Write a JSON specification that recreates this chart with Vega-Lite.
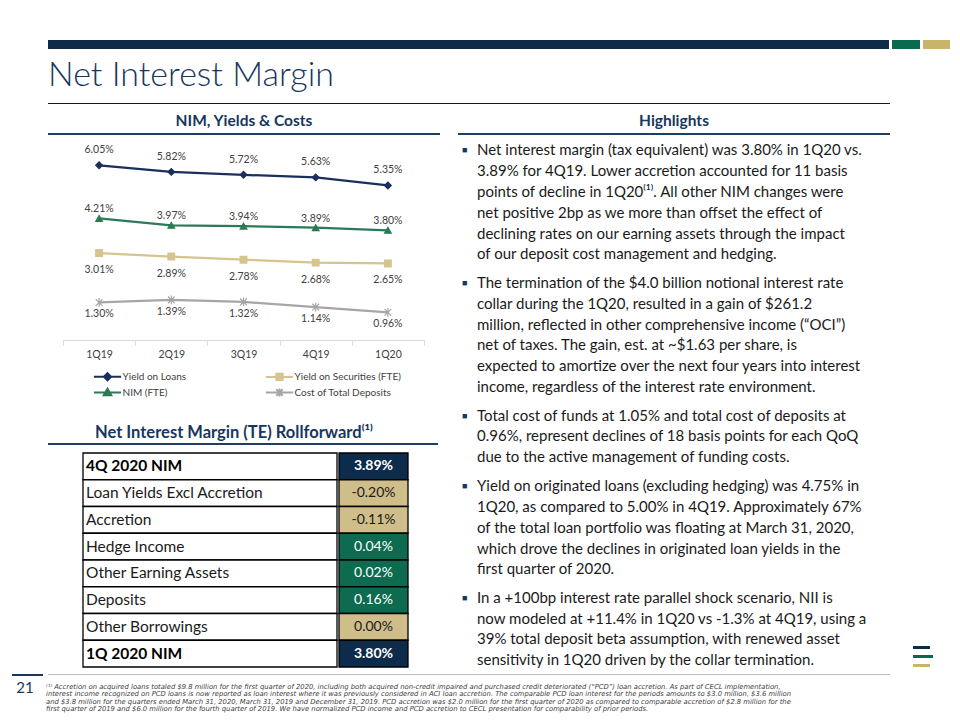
{
  "$schema": "https://vega.github.io/schema/vega-lite/v6.json",
  "background": "white",
  "padding": 0,
  "spacing": 0,
  "config": {
    "view": {"stroke": null},
    "font": "Lato",
    "text": {"font": "Lato"}
  },
  "datasets": {
    "nim": [
      {"q": "1Q19", "s": "Yield on Loans", "v": 0.0605},
      {"q": "2Q19", "s": "Yield on Loans", "v": 0.0582},
      {"q": "3Q19", "s": "Yield on Loans", "v": 0.0572},
      {"q": "4Q19", "s": "Yield on Loans", "v": 0.0563},
      {"q": "1Q20", "s": "Yield on Loans", "v": 0.0535},
      {"q": "1Q19", "s": "Yield on Securities (FTE)", "v": 0.0301},
      {"q": "2Q19", "s": "Yield on Securities (FTE)", "v": 0.0289},
      {"q": "3Q19", "s": "Yield on Securities (FTE)", "v": 0.0278},
      {"q": "4Q19", "s": "Yield on Securities (FTE)", "v": 0.0268},
      {"q": "1Q20", "s": "Yield on Securities (FTE)", "v": 0.0265},
      {"q": "1Q19", "s": "NIM (FTE)", "v": 0.0421},
      {"q": "2Q19", "s": "NIM (FTE)", "v": 0.0397},
      {"q": "3Q19", "s": "NIM (FTE)", "v": 0.0394},
      {"q": "4Q19", "s": "NIM (FTE)", "v": 0.0389},
      {"q": "1Q20", "s": "NIM (FTE)", "v": 0.0380},
      {"q": "1Q19", "s": "Cost of Total Deposits", "v": 0.0130},
      {"q": "2Q19", "s": "Cost of Total Deposits", "v": 0.0139},
      {"q": "3Q19", "s": "Cost of Total Deposits", "v": 0.0132},
      {"q": "4Q19", "s": "Cost of Total Deposits", "v": 0.0114},
      {"q": "1Q20", "s": "Cost of Total Deposits", "v": 0.0096}
    ],
    "tbl": [
      {"i": 1, "label": "4Q 2020 NIM", "v": 0.0389, "kind": "total"},
      {"i": 2, "label": "Loan Yields Excl Accretion", "v": -0.0020, "kind": "change"},
      {"i": 3, "label": "Accretion", "v": -0.0011, "kind": "change"},
      {"i": 4, "label": "Hedge Income", "v": 0.0004, "kind": "change"},
      {"i": 5, "label": "Other Earning Assets", "v": 0.0002, "kind": "change"},
      {"i": 6, "label": "Deposits", "v": 0.0016, "kind": "change"},
      {"i": 7, "label": "Other Borrowings", "v": 0.0000, "kind": "change"},
      {"i": 8, "label": "1Q 2020 NIM", "v": 0.0380, "kind": "total"}
    ],
    "hl": [
      {"p": 1, "ln": 1, "t": "Net interest margin (tax equivalent) was 3.80% in 1Q20 vs."},
      {"p": 1, "ln": 2, "t": "3.89% for 4Q19.  Lower accretion accounted for 11 basis"},
      {"p": 1, "ln": 3, "t": "points of decline in 1Q20⁽¹⁾.  All other NIM changes were"},
      {"p": 1, "ln": 4, "t": "net positive 2bp as we more than offset the effect of"},
      {"p": 1, "ln": 5, "t": "declining rates on our earning assets through the impact"},
      {"p": 1, "ln": 6, "t": "of our deposit cost management and hedging."},
      {"p": 2, "ln": 1, "t": "The termination of the $4.0 billion notional interest rate"},
      {"p": 2, "ln": 2, "t": "collar during the 1Q20, resulted in a gain of $261.2"},
      {"p": 2, "ln": 3, "t": "million, reflected in other comprehensive income (“OCI”)"},
      {"p": 2, "ln": 4, "t": "net of taxes.  The gain, est. at ~$1.63 per share, is"},
      {"p": 2, "ln": 5, "t": "expected to amortize over the next four years into interest"},
      {"p": 2, "ln": 6, "t": "income, regardless of the interest rate environment."},
      {"p": 3, "ln": 1, "t": "Total cost of funds at 1.05% and total cost of deposits at"},
      {"p": 3, "ln": 2, "t": "0.96%, represent declines of 18 basis points for each QoQ"},
      {"p": 3, "ln": 3, "t": "due to the active management of funding costs."},
      {"p": 4, "ln": 1, "t": "Yield on originated loans (excluding hedging) was 4.75% in"},
      {"p": 4, "ln": 2, "t": "1Q20, as compared to 5.00% in 4Q19.  Approximately 67%"},
      {"p": 4, "ln": 3, "t": "of the total loan portfolio was floating at March 31, 2020,"},
      {"p": 4, "ln": 4, "t": "which drove the declines in originated loan yields in the"},
      {"p": 4, "ln": 5, "t": "first quarter of 2020."},
      {"p": 5, "ln": 1, "t": "In a +100bp interest rate parallel shock scenario, NII is"},
      {"p": 5, "ln": 2, "t": "now modeled at +11.4% in 1Q20 vs -1.3% at 4Q19, using a"},
      {"p": 5, "ln": 3, "t": "39% total deposit beta assumption, with renewed asset"},
      {"p": 5, "ln": 4, "t": "sensitivity in 1Q20 driven by the collar termination."}
    ],
    "fn": [
      {"ln": 1, "t": "⁽¹⁾ Accretion on acquired loans totaled $9.8 million for the first quarter of 2020, including both acquired non-credit impaired and purchased credit deteriorated (“PCD”) loan accretion.  As part of CECL implementation,"},
      {"ln": 2, "t": "interest income recognized on PCD loans is now reported as loan interest where it was previously considered in ACI loan accretion.  The comparable PCD loan interest for the periods amounts to $3.0 million, $3.6 million"},
      {"ln": 3, "t": "and $3.8 million for the quarters ended March 31, 2020, March 31, 2019 and December 31, 2019.  PCD accretion was $2.0 million for the first quarter of 2020 as compared to comparable accretion of $2.8 million for the"},
      {"ln": 4, "t": "first quarter of 2019 and $6.0 million for the fourth quarter of 2019.  We have normalized PCD income and PCD accretion to CECL presentation for comparability of prior periods."}
    ]
  },
  "vconcat": [
    {"width": 960, "height": 40, "data": {"values": [{}]}, "mark": {"type": "point", "size": 0, "opacity": 0}},
    {"hconcat": [
      {"width": 48, "height": 9, "data": {"values": [{}]}, "mark": {"type": "point", "size": 0, "opacity": 0}},
      {"width": 841, "height": 9, "view": {"fill": "#0e2b4a", "stroke": null}, "data": {"values": [{}]}, "mark": {"type": "point", "size": 0, "opacity": 0}},
      {"width": 3, "height": 9, "data": {"values": [{}]}, "mark": {"type": "point", "size": 0, "opacity": 0}},
      {"width": 28, "height": 9, "view": {"fill": "#0a6a4f", "stroke": null}, "data": {"values": [{}]}, "mark": {"type": "point", "size": 0, "opacity": 0}},
      {"width": 3, "height": 9, "data": {"values": [{}]}, "mark": {"type": "point", "size": 0, "opacity": 0}},
      {"width": 27, "height": 9, "view": {"fill": "#c9b46c", "stroke": null}, "data": {"values": [{}]}, "mark": {"type": "point", "size": 0, "opacity": 0}}
    ], "spacing": 0},
    {"hconcat": [
      {"width": 48, "height": 54, "data": {"values": [{}]}, "mark": {"type": "point", "size": 0, "opacity": 0}},
      {"width": 842, "height": 54, "data": {"values": [{"t": "Net Interest Margin"}]},
       "mark": {"type": "text", "align": "left", "baseline": "middle", "fontSize": 34, "fontWeight": 300, "color": "#17375e"},
       "encoding": {"x": {"datum": 0, "type": "quantitative", "scale": {"domain": [0, 1]}, "axis": null}, "text": {"field": "t", "type": "nominal"}}}
    ], "spacing": 0},
    {"hconcat": [
      {"width": 48, "height": 1, "data": {"values": [{}]}, "mark": {"type": "point", "size": 0, "opacity": 0}},
      {"width": 842, "height": 1, "view": {"fill": "#1a1a1a", "stroke": null}, "data": {"values": [{}]}, "mark": {"type": "point", "size": 0, "opacity": 0}}
    ], "spacing": 0},
    {"hconcat": [
      {"vconcat": [
        {"hconcat": [
          {"width": 48, "height": 29, "data": {"values": [{}]}, "mark": {"type": "point", "size": 0, "opacity": 0}},
          {"width": 392, "height": 29, "data": {"values": [{"t": "NIM, Yields & Costs"}]},
           "mark": {"type": "text", "align": "center", "baseline": "middle", "dy": 2, "fontSize": 15.5, "fontWeight": "bold", "color": "#17375e"},
           "encoding": {"text": {"field": "t", "type": "nominal"}}}
        ], "spacing": 0},
        {"hconcat": [
          {"width": 48, "height": 2, "data": {"values": [{}]}, "mark": {"type": "point", "size": 0, "opacity": 0}},
          {"width": 392, "height": 2, "view": {"fill": "#1f3f5f", "stroke": null}, "data": {"values": [{}]}, "mark": {"type": "point", "size": 0, "opacity": 0}}
        ], "spacing": 0},
        {"width": 10, "height": 5, "data": {"values": [{}]}, "mark": {"type": "point", "size": 0, "opacity": 0}},
        {"hconcat": [
          {"width": 62, "height": 200, "data": {"values": [{}]}, "mark": {"type": "point", "size": 0, "opacity": 0}},
          {
            "width": 361,
            "height": 200,
            "data": {"name": "nim"},
            "encoding": {
              "x": {"field": "q", "type": "ordinal", "sort": ["1Q19", "2Q19", "3Q19", "4Q19", "1Q20"], "bandPosition": 0.5,
                    "scale": {"type": "band", "paddingInner": 0, "paddingOuter": 0},
                    "axis": {"title": null, "labelAngle": 0, "domainColor": "#d9d9d9", "tickColor": "#d9d9d9", "tickSize": 5, "tickBand": "extent", "labelFont": "Lato", "labelFontSize": 10.5, "labelColor": "#404040", "labelPadding": 4, "grid": false}},
              "y": {"field": "v", "type": "quantitative", "scale": {"domain": [0, 0.06925]}, "axis": null}
            },
            "layer": [
              {"mark": {"type": "line", "strokeWidth": 2.25},
               "encoding": {"stroke": {"field": "s", "type": "nominal",
                 "scale": {"domain": ["Yield on Loans", "Yield on Securities (FTE)", "NIM (FTE)", "Cost of Total Deposits"], "range": ["#1b2f5c", "#d6c48f", "#2b7a57", "#a6a6a6"]},
                 "legend": {"title": null, "orient": "none", "direction": "horizontal", "legendX": 102.5, "legendY": 371.5, "columns": 2, "columnPadding": 75, "rowPadding": 0, "symbolSize": 64, "symbolStrokeWidth": 2, "labelOffset": 10, "labelFont": "Lato", "labelFontSize": 10, "labelColor": "#404040", "padding": 0}}}},
              {"mark": {"type": "point", "filled": true, "opacity": 1, "strokeWidth": 1.2, "size": 45},
               "encoding": {
                 "fill": {"field": "s", "type": "nominal", "scale": {"domain": ["Yield on Loans", "Yield on Securities (FTE)", "NIM (FTE)", "Cost of Total Deposits"], "range": ["#1b2f5c", "#d6c48f", "#2b7a57", "#a6a6a6"]}},
                 "stroke": {"field": "s", "type": "nominal", "scale": {"domain": ["Yield on Loans", "Yield on Securities (FTE)", "NIM (FTE)", "Cost of Total Deposits"], "range": ["#1b2f5c", "#d6c48f", "#2b7a57", "#a6a6a6"]}},
                 "shape": {"condition": [
                   {"test": "datum.s === 'Yield on Loans'", "value": "diamond"},
                   {"test": "datum.s === 'NIM (FTE)'", "value": "triangle-up"},
                   {"test": "datum.s === 'Yield on Securities (FTE)'", "value": "square"}
                 ], "value": "M-1,-1L1,1M-1,1L1,-1M0,-1.3V1.3"}
               }},
              {"transform": [{"filter": "false"}],
               "mark": {"type": "point", "filled": true, "opacity": 1},
               "encoding": {
                 "fill": {"field": "s", "type": "nominal", "scale": {"domain": ["Yield on Loans", "Yield on Securities (FTE)", "NIM (FTE)", "Cost of Total Deposits"], "range": ["#1b2f5c", "#d6c48f", "#2b7a57", "#a6a6a6"]}},
                 "stroke": {"field": "s", "type": "nominal", "scale": {"domain": ["Yield on Loans", "Yield on Securities (FTE)", "NIM (FTE)", "Cost of Total Deposits"], "range": ["#1b2f5c", "#d6c48f", "#2b7a57", "#a6a6a6"]}},
                 "shape": {"field": "s", "type": "nominal",
                   "scale": {"domain": ["Yield on Loans", "Yield on Securities (FTE)", "NIM (FTE)", "Cost of Total Deposits"],
                     "range": ["M-3.4,0H3.4M0,-0.9L0.9,0L0,0.9L-0.9,0Z", "M-3.4,0H3.4M-0.8,-0.8H0.8V0.8H-0.8Z", "M-3.4,0H3.4M0,-0.95L0.95,0.7H-0.95Z", "M-3.4,0H3.4M-0.8,-0.8L0.8,0.8M-0.8,0.8L0.8,-0.8M0,-1V1"]}}
               }},
              {"transform": [{"filter": "datum.s === 'Yield on Loans'"}],
               "mark": {"type": "text", "dy": -15, "fontSize": 10.5, "color": "#404040"},
               "encoding": {"text": {"field": "v", "type": "quantitative", "format": ".2%"}}},
              {"transform": [{"filter": "datum.s === 'NIM (FTE)'"}],
               "mark": {"type": "text", "dy": -9, "fontSize": 10.5, "color": "#404040"},
               "encoding": {"text": {"field": "v", "type": "quantitative", "format": ".2%"}}},
              {"transform": [{"filter": "datum.s === 'Yield on Securities (FTE)'"}],
               "mark": {"type": "text", "dy": 17, "fontSize": 10.5, "color": "#404040"},
               "encoding": {"text": {"field": "v", "type": "quantitative", "format": ".2%"}}},
              {"transform": [{"filter": "datum.s === 'Cost of Total Deposits'"}],
               "mark": {"type": "text", "dy": 12, "fontSize": 10.5, "color": "#404040"},
               "encoding": {"text": {"field": "v", "type": "quantitative", "format": ".2%"}}}
            ]
          }
        ], "spacing": 0},
        {"width": 10, "height": 62, "data": {"values": [{}]}, "mark": {"type": "point", "size": 0, "opacity": 0}},
        {"hconcat": [
          {"width": 95, "height": 21, "data": {"values": [{}]}, "mark": {"type": "point", "size": 0, "opacity": 0}},
          {"width": 343, "height": 21, "data": {"values": [{"t": "Net Interest Margin (TE) Rollforward⁽¹⁾"}]},
           "mark": {"type": "text", "align": "left", "baseline": "middle", "fontSize": 16.5, "fontWeight": "bold", "color": "#17375e"},
           "encoding": {"x": {"datum": 0, "type": "quantitative", "scale": {"domain": [0, 1]}, "axis": null}, "text": {"field": "t", "type": "nominal"}}}
        ], "spacing": 0},
        {"hconcat": [
          {"width": 48, "height": 2, "data": {"values": [{}]}, "mark": {"type": "point", "size": 0, "opacity": 0}},
          {"width": 390, "height": 2, "view": {"fill": "#1f3f5f", "stroke": null}, "data": {"values": [{}]}, "mark": {"type": "point", "size": 0, "opacity": 0}},
          {"width": 20, "height": 2, "data": {"values": [{}]}, "mark": {"type": "point", "size": 0, "opacity": 0}}
        ], "spacing": 0},
        {"width": 10, "height": 7, "data": {"values": [{}]}, "mark": {"type": "point", "size": 0, "opacity": 0}},
        {"hconcat": [
          {"width": 82, "height": 214, "data": {"values": [{}]}, "mark": {"type": "point", "size": 0, "opacity": 0}},
          {
            "width": 254,
            "height": 214,
            "data": {"name": "tbl"},
            "encoding": {
              "y": {"field": "i", "type": "ordinal", "scale": {"type": "band", "paddingInner": 0, "paddingOuter": 0}, "axis": null}
            },
            "layer": [
              {"mark": {"type": "rect", "fill": "white", "stroke": "#000000", "strokeWidth": 1.3},
               "encoding": {"x": {"datum": 0, "type": "quantitative", "scale": {"domain": [0, 1]}, "axis": null}, "x2": {"datum": 1}}},
              {"transform": [{"filter": "datum.kind === 'total'"}],
               "mark": {"type": "text", "align": "left", "baseline": "middle", "dx": 3, "fontSize": 15.5, "fontWeight": "bold", "color": "#000000"},
               "encoding": {"x": {"datum": 0, "type": "quantitative"}, "y": {"field": "i", "type": "ordinal", "bandPosition": 0.5}, "text": {"field": "label", "type": "nominal"}}},
              {"transform": [{"filter": "datum.kind !== 'total'"}],
               "mark": {"type": "text", "align": "left", "baseline": "middle", "dx": 3, "fontSize": 15.5, "color": "#1a1a1a"},
               "encoding": {"x": {"datum": 0, "type": "quantitative"}, "y": {"field": "i", "type": "ordinal", "bandPosition": 0.5}, "text": {"field": "label", "type": "nominal"}}}
            ]
          },
          {
            "width": 69,
            "height": 214,
            "data": {"name": "tbl"},
            "transform": [{"calculate": "replace(format(datum.v, '.2%'), '\u2212', '-')", "as": "lbl"}],
            "encoding": {
              "y": {"field": "i", "type": "ordinal", "scale": {"type": "band", "paddingInner": 0, "paddingOuter": 0}, "axis": null}
            },
            "layer": [
              {"mark": {"type": "rect", "stroke": "#000000", "strokeWidth": 1.3},
               "encoding": {"x": {"datum": 0, "type": "quantitative", "scale": {"domain": [0, 1]}, "axis": null}, "x2": {"datum": 1},
                 "fill": {"condition": [{"test": "datum.kind === 'total'", "value": "#0d2b4b"}, {"test": "datum.v > 0", "value": "#0e6b4f"}], "value": "#cfbd8a"}}},
              {"transform": [{"filter": "datum.kind === 'total'"}],
               "mark": {"type": "text", "baseline": "middle", "fontSize": 14, "fontWeight": "bold", "color": "white"},
               "encoding": {"y": {"field": "i", "type": "ordinal", "bandPosition": 0.5}, "text": {"field": "lbl", "type": "nominal"}}},
              {"transform": [{"filter": "datum.kind !== 'total'"}],
               "mark": {"type": "text", "baseline": "middle", "fontSize": 14},
               "encoding": {"y": {"field": "i", "type": "ordinal", "bandPosition": 0.5}, "text": {"field": "lbl", "type": "nominal"},
                 "color": {"condition": {"test": "datum.v > 0", "value": "white"}, "value": "#1a1a1a"}}}
            ]
          }
        ], "spacing": 0}
      ], "spacing": 0},
      {"vconcat": [
        {"width": 432, "height": 29, "data": {"values": [{"t": "Highlights"}]},
         "mark": {"type": "text", "align": "center", "baseline": "middle", "dy": 2, "fontSize": 15.5, "fontWeight": "bold", "color": "#17375e"},
         "encoding": {"text": {"field": "t", "type": "nominal"}}},
        {"width": 432, "height": 2, "view": {"fill": "#1f3f5f", "stroke": null}, "data": {"values": [{}]}, "mark": {"type": "point", "size": 0, "opacity": 0}},
        {"width": 10, "height": 4.6, "data": {"values": [{}]}, "mark": {"type": "point", "size": 0, "opacity": 0}},
        {"vconcat": [
          {"width": 455, "height": 124.8, "data": {"name": "hl"}, "transform": [{"filter": "datum.p === 1"}],
           "encoding": {"x": {"datum": 0, "type": "quantitative", "scale": {"domain": [0, 1]}, "axis": null},
                        "y": {"field": "ln", "type": "ordinal", "scale": {"type": "point", "padding": 0.5}, "axis": null}},
           "layer": [
             {"mark": {"type": "text", "align": "left", "baseline": "middle", "dx": 19, "fontSize": 15, "color": "#1a1a1a"}, "encoding": {"text": {"field": "t", "type": "nominal"}}},
             {"transform": [{"filter": "datum.ln === 1"}], "mark": {"type": "text", "align": "left", "baseline": "middle", "dx": 4, "fontSize": 9, "color": "#17375e"}, "encoding": {"text": {"value": "■"}}}
           ]},
          {"width": 455, "height": 124.8, "data": {"name": "hl"}, "transform": [{"filter": "datum.p === 2"}],
           "encoding": {"x": {"datum": 0, "type": "quantitative", "scale": {"domain": [0, 1]}, "axis": null},
                        "y": {"field": "ln", "type": "ordinal", "scale": {"type": "point", "padding": 0.5}, "axis": null}},
           "layer": [
             {"mark": {"type": "text", "align": "left", "baseline": "middle", "dx": 19, "fontSize": 15, "color": "#1a1a1a"}, "encoding": {"text": {"field": "t", "type": "nominal"}}},
             {"transform": [{"filter": "datum.ln === 1"}], "mark": {"type": "text", "align": "left", "baseline": "middle", "dx": 4, "fontSize": 9, "color": "#17375e"}, "encoding": {"text": {"value": "■"}}}
           ]},
          {"width": 455, "height": 62.4, "data": {"name": "hl"}, "transform": [{"filter": "datum.p === 3"}],
           "encoding": {"x": {"datum": 0, "type": "quantitative", "scale": {"domain": [0, 1]}, "axis": null},
                        "y": {"field": "ln", "type": "ordinal", "scale": {"type": "point", "padding": 0.5}, "axis": null}},
           "layer": [
             {"mark": {"type": "text", "align": "left", "baseline": "middle", "dx": 19, "fontSize": 15, "color": "#1a1a1a"}, "encoding": {"text": {"field": "t", "type": "nominal"}}},
             {"transform": [{"filter": "datum.ln === 1"}], "mark": {"type": "text", "align": "left", "baseline": "middle", "dx": 4, "fontSize": 9, "color": "#17375e"}, "encoding": {"text": {"value": "■"}}}
           ]},
          {"width": 455, "height": 104, "data": {"name": "hl"}, "transform": [{"filter": "datum.p === 4"}],
           "encoding": {"x": {"datum": 0, "type": "quantitative", "scale": {"domain": [0, 1]}, "axis": null},
                        "y": {"field": "ln", "type": "ordinal", "scale": {"type": "point", "padding": 0.5}, "axis": null}},
           "layer": [
             {"mark": {"type": "text", "align": "left", "baseline": "middle", "dx": 19, "fontSize": 15, "color": "#1a1a1a"}, "encoding": {"text": {"field": "t", "type": "nominal"}}},
             {"transform": [{"filter": "datum.ln === 1"}], "mark": {"type": "text", "align": "left", "baseline": "middle", "dx": 4, "fontSize": 9, "color": "#17375e"}, "encoding": {"text": {"value": "■"}}}
           ]},
          {"width": 455, "height": 83.2, "data": {"name": "hl"}, "transform": [{"filter": "datum.p === 5"}],
           "encoding": {"x": {"datum": 0, "type": "quantitative", "scale": {"domain": [0, 1]}, "axis": null},
                        "y": {"field": "ln", "type": "ordinal", "scale": {"type": "point", "padding": 0.5}, "axis": null}},
           "layer": [
             {"mark": {"type": "text", "align": "left", "baseline": "middle", "dx": 19, "fontSize": 15, "color": "#1a1a1a"}, "encoding": {"text": {"field": "t", "type": "nominal"}}},
             {"transform": [{"filter": "datum.ln === 1"}], "mark": {"type": "text", "align": "left", "baseline": "middle", "dx": 4, "fontSize": 9, "color": "#17375e"}, "encoding": {"text": {"value": "■"}}}
           ]}
        ], "spacing": 7.6}
      ], "spacing": 0},
      {"vconcat": [
        {"width": 10, "height": 542, "data": {"values": [{}]}, "mark": {"type": "point", "size": 0, "opacity": 0}},
        {"width": 17, "height": 3, "view": {"fill": "#0e2b4a", "stroke": null}, "data": {"values": [{}]}, "mark": {"type": "point", "size": 0, "opacity": 0}},
        {"width": 10, "height": 6, "data": {"values": [{}]}, "mark": {"type": "point", "size": 0, "opacity": 0}},
        {"width": 20, "height": 3, "view": {"fill": "#0a6a4f", "stroke": null}, "data": {"values": [{}]}, "mark": {"type": "point", "size": 0, "opacity": 0}},
        {"width": 10, "height": 6, "data": {"values": [{}]}, "mark": {"type": "point", "size": 0, "opacity": 0}},
        {"width": 17, "height": 3, "view": {"fill": "#c9b46c", "stroke": null}, "data": {"values": [{}]}, "mark": {"type": "point", "size": 0, "opacity": 0}}
      ], "spacing": 0}
    ], "spacing": 0},
    {"width": 960, "height": 2.4, "data": {"values": [{}]}, "mark": {"type": "point", "size": 0, "opacity": 0}},
    {"hconcat": [
      {"width": 12, "height": 2, "data": {"values": [{}]}, "mark": {"type": "point", "size": 0, "opacity": 0}},
      {"width": 31, "height": 2, "view": {"fill": "#17375e", "stroke": null}, "data": {"values": [{}]}, "mark": {"type": "point", "size": 0, "opacity": 0}},
      {"width": 5, "height": 2, "data": {"values": [{}]}, "mark": {"type": "point", "size": 0, "opacity": 0}},
      {"width": 842, "height": 1, "view": {"fill": "#bfbfbf", "stroke": null}, "data": {"values": [{}]}, "mark": {"type": "point", "size": 0, "opacity": 0}}
    ], "spacing": 0},
    {"width": 960, "height": 5, "data": {"values": [{}]}, "mark": {"type": "point", "size": 0, "opacity": 0}},
    {"hconcat": [
      {"width": 12, "height": 10, "data": {"values": [{}]}, "mark": {"type": "point", "size": 0, "opacity": 0}},
      {"width": 26, "height": 10, "data": {"values": [{"t": "21"}]},
       "mark": {"type": "text", "align": "center", "baseline": "middle", "fontSize": 15, "color": "#17375e"},
       "encoding": {"text": {"field": "t", "type": "nominal"}}},
      {"width": 8, "height": 10, "data": {"values": [{}]}, "mark": {"type": "point", "size": 0, "opacity": 0}},
      {"width": 880, "height": 30, "data": {"name": "fn"},
       "mark": {"type": "text", "align": "left", "baseline": "middle", "font": "DejaVu Sans", "fontSize": 6.8, "fontStyle": "italic", "color": "#404040"},
       "encoding": {
         "x": {"datum": 0, "type": "quantitative", "scale": {"domain": [0, 1]}, "axis": null},
         "y": {"field": "ln", "type": "ordinal", "scale": {"type": "point", "padding": 0.5}, "axis": null},
         "text": {"field": "t", "type": "nominal"}
       }}
    ], "spacing": 0}
  ]
}
